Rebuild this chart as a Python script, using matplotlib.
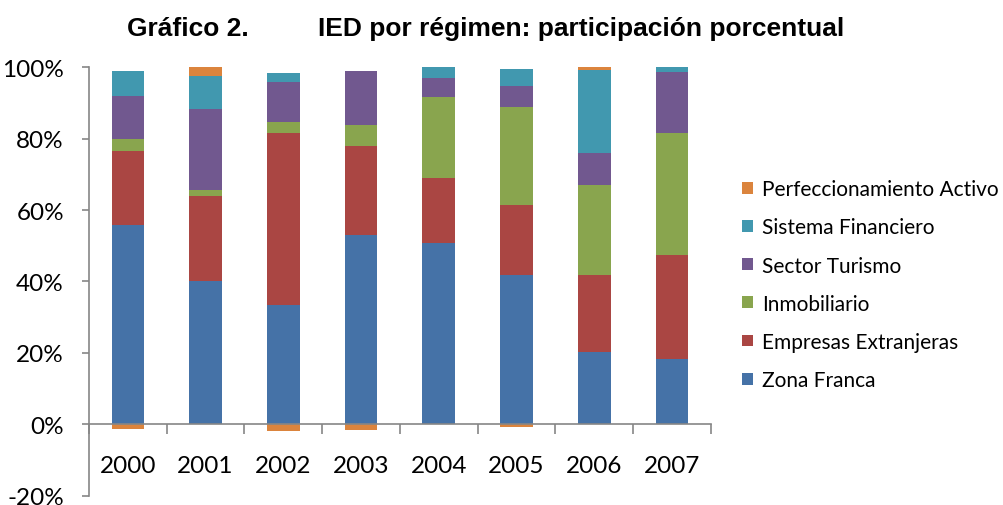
import matplotlib
matplotlib.use("Agg")
import matplotlib.pyplot as plt
import numpy as np

years = ["2000", "2001", "2002", "2003", "2004", "2005", "2006", "2007"]

# participation (%), bottom -> top
zona_franca = [55.8, 40.1, 33.4, 53.0, 50.8, 41.7, 20.4, 18.2]
empresas_ext = [20.7, 23.8, 48.1, 24.9, 18.1, 19.6, 21.3, 29.1]
inmobiliario = [3.3, 1.6, 3.1, 5.9, 22.7, 27.5, 25.2, 34.2]
turismo = [12.1, 22.7, 11.2, 15.1, 5.3, 5.9, 9.0, 17.1]
financiero = [7.0, 9.3, 2.5, 0.0, 3.1, 4.7, 23.3, 1.4]
perfeccionamiento = [-1.3, 2.5, -1.9, -1.4, 0.0, -0.7, 0.8, 0.0]

series = [
    ("Zona Franca", zona_franca, "#4572A7"),
    ("Empresas Extranjeras", empresas_ext, "#AA4643"),
    ("Inmobiliario", inmobiliario, "#89A54E"),
    ("Sector Turismo", turismo, "#71588F"),
    ("Sistema Financiero", financiero, "#4198AF"),
    ("Perfeccionamiento Activo", perfeccionamiento, "#DB843D"),
]

fig = plt.figure(figsize=(10.04, 5.06), dpi=100)
ax = fig.add_axes([0.0886, 0.0178, 0.6195, 0.8478])

x = np.arange(len(years))
pos_base = np.zeros(len(years))
neg_base = np.zeros(len(years))
handles = []
for name, vals, col in series:
    vals = np.array(vals)
    bottom = np.where(vals >= 0, pos_base, neg_base)
    b = ax.bar(x, vals, 0.42, bottom=bottom, color=col, label=name, linewidth=0)
    handles.append(b)
    pos_base += np.clip(vals, 0, None)
    neg_base += np.clip(vals, None, 0)

ax.set_xlim(-0.5, len(years) - 0.5)
ax.set_ylim(-20, 100)
ax.set_yticks(np.arange(-20, 101, 20))
ax.set_yticklabels([f"{v}%" for v in range(-20, 101, 20)])

ax.spines["top"].set_visible(False)
ax.spines["right"].set_visible(False)
ax.spines["bottom"].set_position(("data", 0))
for s in ("left", "bottom"):
    ax.spines[s].set_color("#868686")
    ax.spines[s].set_linewidth(1.2)

ax.set_xticks(x)
ax.set_xticklabels(years)
ax.set_xticks(np.arange(-0.5, len(years), 1), minor=True)
ax.tick_params(axis="x", which="major", length=0, pad=22)
ax.tick_params(axis="x", which="minor", length=7, color="#868686", width=1.2, direction="out")
ax.tick_params(axis="y", length=5, color="#868686", width=1.2, pad=13)
for lab in ax.get_xticklabels() + ax.get_yticklabels():
    lab.set_fontfamily("Lato")
    lab.set_fontsize(17.5)

fig.text(0.1265, 0.942, "Gráfico 2.", fontsize=19, fontweight="bold",
         family="Liberation Sans", va="center", ha="left")
fig.text(0.3167, 0.942, "IED por régimen: participación porcentual", fontsize=19,
         fontweight="bold", family="Liberation Sans", va="center", ha="left")

leg = fig.legend(handles[::-1], [s[0] for s in series][::-1], loc="upper left",
                 bbox_to_anchor=(0.731, 0.66), frameon=False,
                 prop={"family": "Lato", "size": 15},
                 handlelength=0.5, handleheight=0.5, handletextpad=0.45,
                 labelspacing=0.87, borderaxespad=0)

fig.savefig("out.png", dpi=100)
